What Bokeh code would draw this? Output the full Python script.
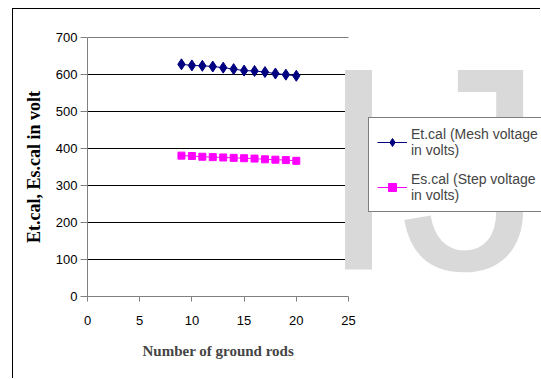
from bokeh.plotting import figure
from bokeh.models import Legend, LegendItem, Label, SingleIntervalTicker, Range1d, Title
from bokeh.embed import file_html
from bokeh.resources import INLINE

rods = [9, 10, 11, 12, 13, 14, 15, 16, 17, 18, 19, 20]
mesh_v = [628, 625, 624, 622, 619, 615, 611, 610, 607, 603, 600, 597]
step_v = [381, 380, 378, 377, 376, 375, 374, 373, 371, 370, 369, 367]
x_ticks_max = 25
y_max = 700

FIG_W, FIG_H = 528, 370
LEFT, TOP, BOTTOM = 74, 28, 83
AXIS_PX = 261  # pixel length of the 0..25 x axis
frame_w = FIG_W - LEFT
x_end = x_ticks_max * frame_w / AXIS_PX

p = figure(width=FIG_W, height=FIG_H, output_backend="svg", toolbar_location=None,
           x_range=Range1d(0, x_end), y_range=Range1d(0, y_max + 0.5),
           min_border_left=LEFT, min_border_right=0, min_border_top=TOP, min_border_bottom=BOTTOM,
           margin=(8, 0, 0, 12),
           styles={"border-left": "1px solid black", "border-top": "1px solid black"})
p.outline_line_color = None
p.background_fill_color = "white"
p.border_fill_color = "white"

# watermark
p.add_layout(Label(x=22.1, y=-92, text="I", text_font="Liberation Sans", text_font_size="290px",
                   text_baseline="bottom", text_color="#d9d9d9", level="underlay"))
p.add_layout(Label(x=29.9, y=-92, text="J", text_font="Liberation Sans", text_font_size="290px",
                   text_baseline="bottom", text_color="#d9d9d9", level="underlay"))

p.xgrid.visible = False
p.ygrid.grid_line_color = "black"
p.ygrid.grid_line_width = 1
p.ygrid.cross_bounds = (0, x_ticks_max)

p.xaxis.ticker = SingleIntervalTicker(interval=5)
p.yaxis.ticker = SingleIntervalTicker(interval=100)
p.xaxis.bounds = (0, x_ticks_max)
p.yaxis.bounds = (0, y_max)
for ax in (p.xaxis[0], p.yaxis[0]):
    ax.axis_line_color = "#808080"
    ax.major_tick_line_color = "#808080"
    ax.major_tick_out = 7
    ax.major_tick_in = 0
    ax.minor_tick_line_color = None
    ax.major_label_text_font = "Liberation Sans"
    ax.major_label_text_font_size = "13px"
    ax.major_label_text_color = "black"
    ax.axis_label_text_font = "Liberation Serif"
    ax.axis_label_text_font_style = "bold"
    ax.axis_label_text_font_size = "18px"
    ax.axis_label_text_color = "black"
p.yaxis.axis_label = "Et.cal, Es.cal in volt"
p.yaxis.axis_label_standoff = 9
p.yaxis.major_label_standoff = 3
p.xaxis.major_tick_out = 5
p.xaxis.major_label_standoff = 14

p.add_layout(Title(text="Number of ground  rods", align="left", offset=55,
                   text_font="Liberation Serif", text_font_style="bold", text_font_size="15px",
                   standoff=27), "below")

l1 = p.line(rods, mesh_v, line_color="#000080", line_width=1)
m1 = p.scatter(rods, mesh_v, marker="diamond", size=11, fill_color="#000080", line_color="#000080")
l2 = p.line(rods, step_v, line_color="#FF00FF", line_width=1)
m2 = p.scatter(rods, step_v, marker="square", size=7, fill_color="#FF00FF", line_color="#FF00FF")

legend = Legend(items=[
    LegendItem(label="Et.cal (Mesh voltage\nin volts)", renderers=[l1, m1]),
    LegendItem(label="Es.cal (Step voltage\nin volts)", renderers=[l2, m2]),
], location=(281, 84))
legend.label_text_font = "Liberation Sans"
legend.label_text_font_size = "14px"
legend.border_line_color = "black"
legend.background_fill_color = "white"
legend.background_fill_alpha = 1
legend.padding = 8
legend.spacing = 13
legend.glyph_width = 30
legend.label_standoff = 4
legend.margin = 0
p.add_layout(legend, "center")

open("out.html", "w").write(file_html(p, INLINE))
